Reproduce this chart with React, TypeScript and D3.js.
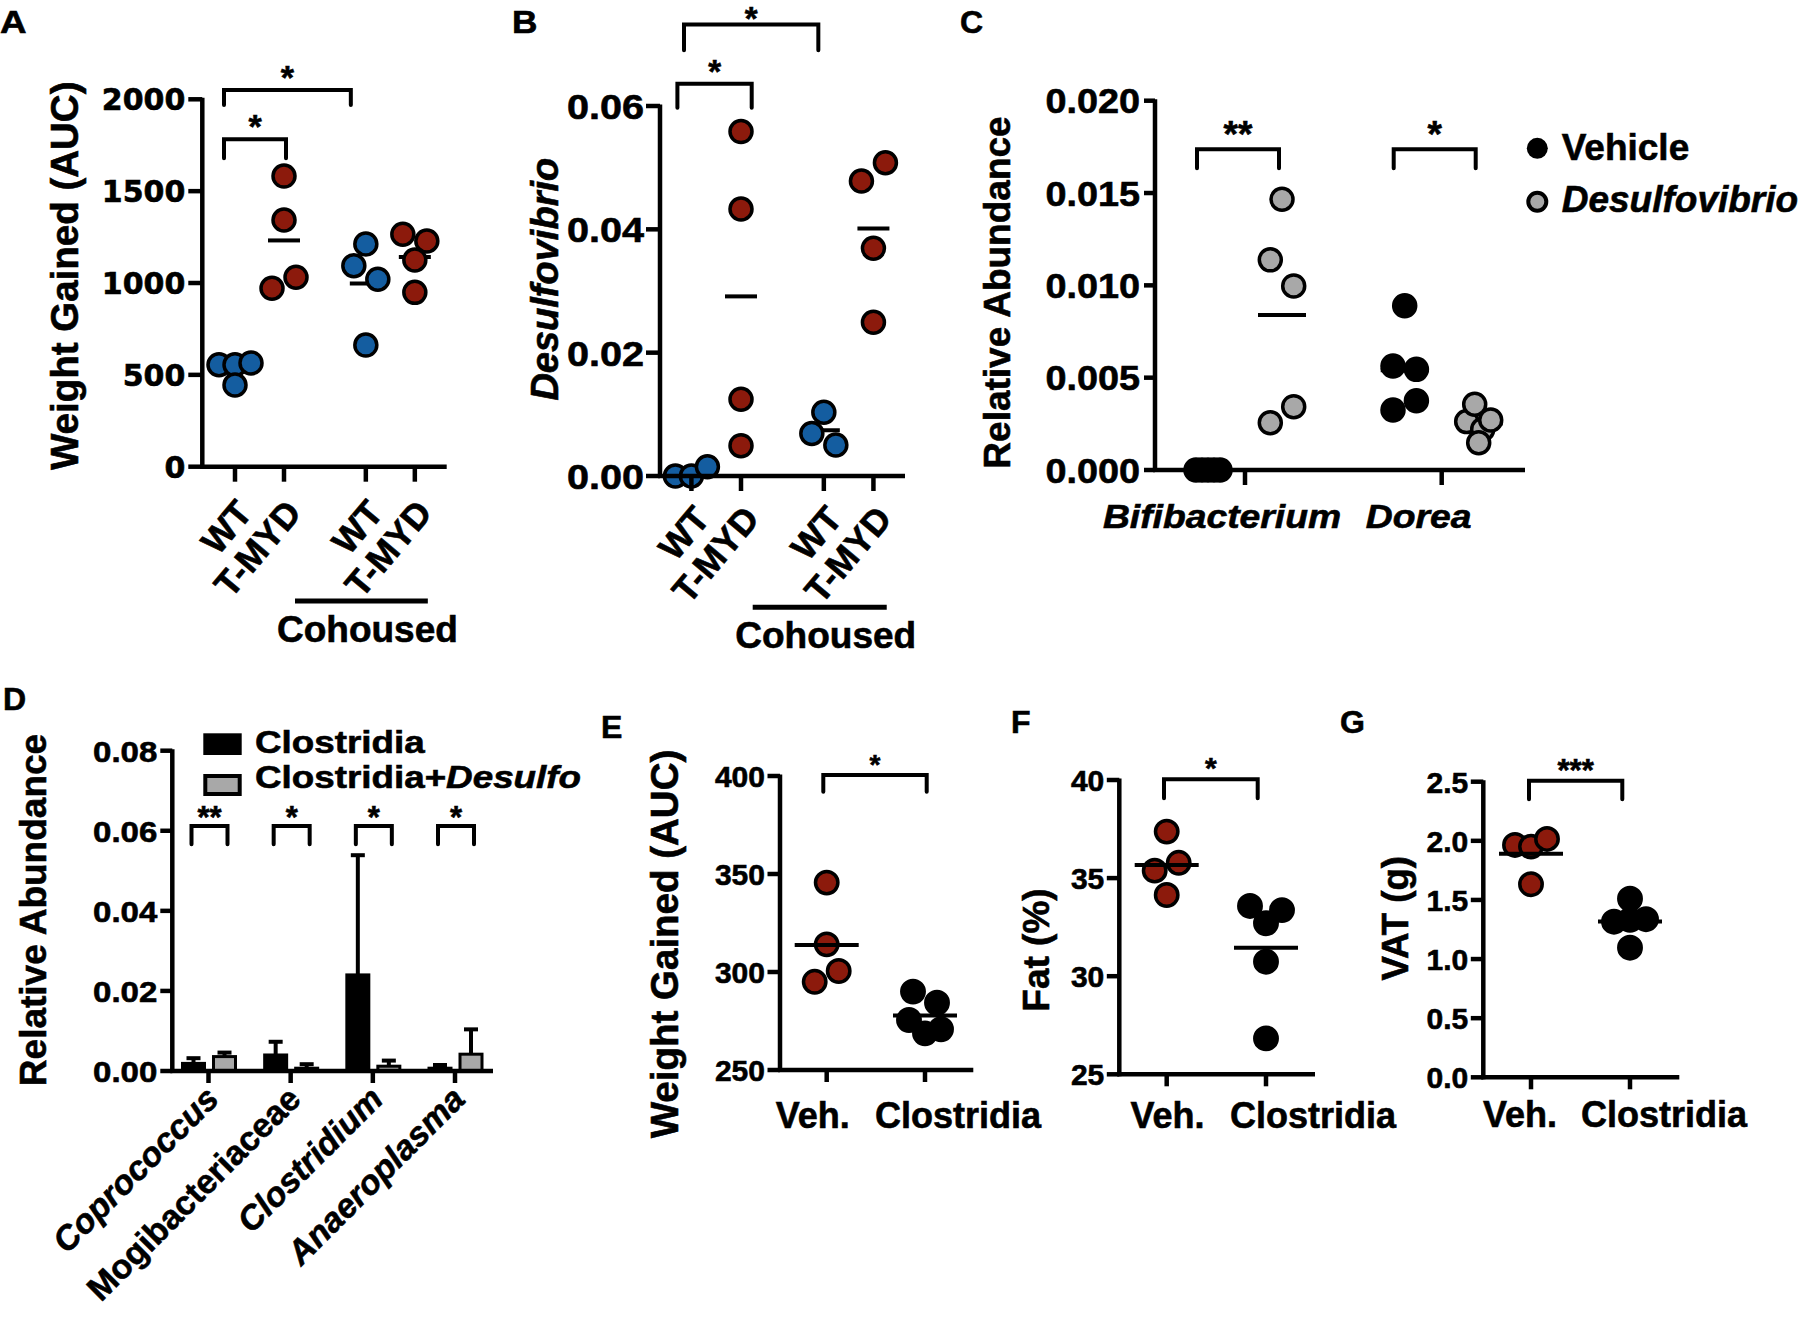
import React from 'react';
import * as d3 from 'd3';

// ---------------- DATA ----------------
// Panel A: weight gained (AUC)
const groupsA = ['WT', 'T-MYD', 'WT', 'T-MYD'];
const cohousedA = [false, false, true, true];
const weightA: number[][] = [
  [555, 555, 565, 445],
  [1582, 1343, 971, 1031],
  [1212, 1094, 1020, 662],
  [1265, 1229, 1125, 949],
];
const ticksA = [0, 500, 1000, 1500, 2000];
const compA = [
  { a: 0, b: 1, level: 1782, label: '*' },
  { a: 0, b: 2, level: 2051, label: '*' },
];

// Panel B: Desulfovibrio abundance
const groupsB = ['WT', 'T-MYD', 'WT', 'T-MYD'];
const cohousedB = [false, false, true, true];
const desulfoB: number[][] = [
  [0, 0, 0.0015],
  [0.05585, 0.0433, 0.01244, 0.00492],
  [0.01033, 0.0069, 0.00503],
  [0.04785, 0.0508, 0.03693, 0.02493],
];
const ticksB = [0, 0.02, 0.04, 0.06];
const compB = [
  { a: 0, b: 1, level: 0.0636, label: '*' },
  { a: 0, b: 2, level: 0.0732, label: '*' },
];

// Panel C: relative abundance by genus
const genusC = ['Bifibacterium', 'Dorea'];
const treatC = ['Vehicle', 'Desulfovibrio'];
const vehicleC: number[][] = [
  [0, 0, 0, 0, 0],
  [0.0089, 0.00563, 0.00545, 0.00325, 0.00375],
];
const desulfoC: number[][] = [
  [0.01466, 0.01138, 0.00997, 0.00256, 0.00343],
  [0.00262, 0.00356, 0.0022, 0.00271, 0.00148],
];
const ticksC = [0, 0.005, 0.01, 0.015, 0.02];
const starsC = ['**', '*'];
const levelC = 0.01737;

// Panel D: bar chart, mean + SEM
const taxaD = ['Coprococcus', 'Mogibacteriaceae', 'Clostridium', 'Anaeroplasma'];
const italicD = [true, false, true, true];
const seriesD = ['Clostridia', 'Clostridia+Desulfo'];
const clostMeanD = [0.0019, 0.004, 0.024, 0.0007];
const clostSemD = [0.0013, 0.0033, 0.0299, 0.0008];
const desMeanD = [0.0036, 0.0007, 0.0012, 0.0042];
const desSemD = [0.001, 0.001, 0.0014, 0.0062];
const ticksD = [0, 0.02, 0.04, 0.06, 0.08];
const starsD = ['**', '*', '*', '*'];
const levelD = 0.0612;

// Panels E, F, G
const groupsEFG = ['Veh.', 'Clostridia'];
const weightE: number[][] = [
  [345.6, 314.1, 295.0, 300.5],
  [290, 284.3, 275.5, 268.7, 270.8],
];
const ticksE = [250, 300, 350, 400];
const fatF: number[][] = [
  [37.37, 35.38, 35.78, 34.14],
  [33.58, 32.7, 33.37, 30.74, 26.83],
];
const ticksF = [25, 30, 35, 40];
const vatG: number[][] = [
  [1.965, 1.951, 2.016, 1.633],
  [1.51, 1.316, 1.331, 1.337, 1.096],
];
const ticksG = [0, 0.5, 1, 1.5, 2, 2.5];

// ---------------- STYLE ----------------
const BOLD = '"Liberation Sans", Arial, Helvetica, sans-serif';
const WIDE = '"DejaVu Sans", Verdana, sans-serif';
const RED = '#8c1a0c';
const BLUE = '#145da0';
const GRAY = '#a8a8a8';
const SW = 4.5;

// ---------------- HELPERS ----------------
function Txt(props: any) {
  const { x, y, size, anchor = 'start', rot = 0, sx = 1, italic = false, family = BOLD, children } = props;
  return (
    <text
      transform={`translate(${x},${y}) rotate(${rot}) scale(${sx},1)`}
      fontFamily={family}
      fontSize={size}
      fontWeight="bold"
      fontStyle={italic ? 'italic' : 'normal'}
      textAnchor={anchor}
      fill="#000"
      stroke="#000"
      strokeWidth={0.6}
    >
      {children}
    </text>
  );
}

function YAxis(props: any) {
  const { x, y, ticks, fmt, size, sx = 1, family = BOLD, tick = 13, gap = 2 } = props;
  const [d0, d1] = y.domain();
  return (
    <g>
      <line x1={x} x2={x} y1={y(d1) - 1.5} y2={y(d0) + 2} stroke="#000" strokeWidth={SW} />
      {ticks.map((t: number) => (
        <g key={t}>
          <line x1={x - tick} x2={x} y1={y(t)} y2={y(t)} stroke="#000" strokeWidth={SW} />
          <Txt x={x - tick - gap} y={y(t) + size * 0.36} size={size} anchor="end" sx={sx} family={family}>
            {fmt(t)}
          </Txt>
        </g>
      ))}
    </g>
  );
}

function XAxis(props: any) {
  const { x0, x1, y, ticks, len = 13 } = props;
  return (
    <g>
      <line x1={x0 - 2} x2={x1} y1={y} y2={y} stroke="#000" strokeWidth={SW} />
      {ticks.map((t: number, i: number) => (
        <line key={i} x1={t} x2={t} y1={y} y2={y + len} stroke="#000" strokeWidth={SW} />
      ))}
    </g>
  );
}

function Bracket(props: any) {
  const { x1, x2, y, leg, label, size, dy } = props;
  return (
    <g>
      <path
        d={`M${x1},${y + leg}V${y}H${x2}V${y + leg}`}
        fill="none"
        stroke="#000"
        strokeWidth={4}
        strokeLinecap="round"
      />
      <Txt x={(x1 + x2) / 2} y={y + dy} size={size} anchor="middle">
        {label}
      </Txt>
    </g>
  );
}

// points in the same vertical bin are spread symmetrically around the group centre
function dodge(ys: number[], binSize: number, spacing: number, maxHalf: number): number[] {
  const idx = ys.map((_, i) => i).sort((a, b) => ys[a] - ys[b]);
  const off = new Array(ys.length).fill(0);
  let i = 0;
  while (i < idx.length) {
    const start = ys[idx[i]];
    const bin: number[] = [];
    while (i < idx.length && ys[idx[i]] - start < binSize) {
      bin.push(idx[i]);
      i++;
    }
    bin.sort((a, b) => a - b);
    const n = bin.length;
    const sp = n > 1 ? Math.min(spacing, (2 * maxHalf) / (n - 1)) : 0;
    bin.forEach((k, j) => {
      off[k] = (j - (n - 1) / 2) * sp;
    });
  }
  return off;
}

function Dots(props: any) {
  const { cx, vals, y, fill, r = 11, binSize = 19, spacing = 24, maxHalf = 16 } = props;
  const ys = vals.map((v: number) => y(v));
  const off = dodge(ys, binSize, spacing, maxHalf);
  return (
    <g>
      {vals.map((_: number, i: number) => (
        <circle key={i} cx={cx + off[i]} cy={ys[i]} r={r} fill={fill} stroke="#000" strokeWidth={3.5} />
      ))}
    </g>
  );
}

function MeanLine(props: any) {
  const { cx, y, w } = props;
  return <line x1={cx - w / 2} x2={cx + w / 2} y1={y} y2={y} stroke="#000" strokeWidth={4} />;
}

// ---------------- PANELS ----------------
const GAP = 0.67; // extra slot spacing before the cohoused groups

function PanelA() {
  const y = d3.scaleLinear().domain([0, 2000]).range([466.7, 99.3]);
  const slot = d3.scaleLinear().domain([0, 1]).range([235, 284]);
  const pos = groupsA.map((_, i) => slot(i + (cohousedA[i] ? GAP : 0)));
  const adj = [
    [-11, 2, 19, -1.5],
    [-11, -15, 15, -1.2],
  ];
  const base = y(0);
  const cohX1 = pos[1] + 11;
  const cohX2 = pos[3] + 13;
  return (
    <g>
      <Txt x={0} y={33} size={32} sx={1.15}>A</Txt>
      <Txt x={77.5} y={275.8} size={38.5} rot={-90} anchor="middle">Weight Gained (AUC)</Txt>
      {weightA.map((vals, i) => (
        <MeanLine key={'m' + i} cx={pos[i]} y={y(d3.mean(vals) as number)} w={32} />
      ))}
      {weightA.map((vals, i) => (
        <Dots key={'d' + i} cx={pos[i]} vals={vals} y={y} fill={i % 2 === 0 ? BLUE : RED} />
      ))}
      <YAxis x={202.3} y={y} ticks={ticksA} fmt={d3.format('d')} size={30} family={WIDE} tick={14} gap={3} />
      <XAxis x0={202.3} x1={446.7} y={base} ticks={pos} len={15} />
      {compA.map((c, k) => (
        <Bracket
          key={k}
          x1={pos[c.a] + adj[k][0]}
          x2={pos[c.b] + adj[k][1]}
          y={y(c.level)}
          leg={adj[k][2]}
          dy={adj[k][3]}
          label={c.label}
          size={34}
        />
      ))}
      {groupsA.map((g, i) => (
        <Txt key={'x' + i} x={pos[i] + 19} y={base + 47} size={36} rot={-50} anchor="end">
          {g}
        </Txt>
      ))}
      <line x1={cohX1} x2={cohX2} y1={base + 134.3} y2={base + 134.3} stroke="#000" strokeWidth={5} />
      <Txt x={(cohX1 + cohX2) / 2 + 6} y={base + 175.3} size={37} anchor="middle">Cohoused</Txt>
    </g>
  );
}

function PanelB() {
  const y = d3.scaleLinear().domain([0, 0.06]).range([476, 106]);
  const slot = d3.scaleLinear().domain([0, 1]).range([691.4, 741]);
  const pos = groupsB.map((_, i) => slot(i + (cohousedB[i] ? GAP : 0)));
  const adj = [
    [-14, 10.7, 24, -1.3],
    [-7.4, -5.5, 25.7, 5],
  ];
  const base = y(0);
  const cohX1 = pos[1] + 11.7;
  const cohX2 = pos[3] + 13.3;
  return (
    <g>
      <Txt x={512} y={33} size={32} sx={1.1}>B</Txt>
      <Txt x={558} y={279.2} size={38} rot={-90} anchor="middle" italic>Desulfovibrio</Txt>
      {desulfoB.map((vals, i) => (
        <MeanLine key={'m' + i} cx={pos[i]} y={y(d3.mean(vals) as number)} w={32} />
      ))}
      {desulfoB.map((vals, i) => (
        <Dots key={'d' + i} cx={pos[i]} vals={vals} y={y} fill={i % 2 === 0 ? BLUE : RED} />
      ))}
      <YAxis x={660} y={y} ticks={ticksB} fmt={d3.format('.2f')} size={36} sx={1.1} tick={14} gap={2} />
      <XAxis x0={660} x1={905} y={base} ticks={pos} len={15} />
      {compB.map((c, k) => (
        <Bracket
          key={k}
          x1={pos[c.a] + adj[k][0]}
          x2={pos[c.b] + adj[k][1]}
          y={y(c.level)}
          leg={adj[k][2]}
          dy={adj[k][3]}
          label={c.label}
          size={33}
        />
      ))}
      {groupsB.map((g, i) => (
        <Txt key={'x' + i} x={pos[i] + 20} y={base + 43.6} size={36} rot={-50} anchor="end">
          {g}
        </Txt>
      ))}
      <line x1={cohX1} x2={cohX2} y1={base + 131.3} y2={base + 131.3} stroke="#000" strokeWidth={5} />
      <Txt x={(cohX1 + cohX2) / 2 + 6} y={base + 172} size={37} anchor="middle">Cohoused</Txt>
    </g>
  );
}

function PanelC() {
  const y = d3.scaleLinear().domain([0, 0.02]).range([470, 100.7]);
  const x = d3.scalePoint<string>().domain(genusC).range([1245, 1441.7]);
  const sub = d3.scalePoint<string>().domain(treatC).range([-37, 37]);
  const base = y(0);
  const dotOpts = { binSize: 30, spacing: 23.4, maxHalf: 12 };
  return (
    <g>
      <Txt x={960} y={33} size={32}>C</Txt>
      <Txt x={1010} y={292.5} size={37} rot={-90} anchor="middle">Relative Abundance</Txt>
      {genusC.map((g, i) => {
        const cv = (x(g) as number) + (sub(treatC[0]) as number);
        const cd = (x(g) as number) + (sub(treatC[1]) as number);
        return (
          <g key={g}>
            <MeanLine cx={cv} y={y(d3.mean(vehicleC[i]) as number)} w={48} />
            <MeanLine cx={cd} y={y(d3.mean(desulfoC[i]) as number)} w={48} />
            <Dots cx={cv} vals={vehicleC[i]} y={y} fill="#000" {...dotOpts} />
            <Dots cx={cd} vals={desulfoC[i]} y={y} fill={GRAY} {...dotOpts} />
            <Bracket x1={cv - 11} x2={cd - 3} y={y(levelC)} leg={19} dy={-2.3} label={starsC[i]} size={37} />
            <Txt x={(x(g) as number) - 23} y={528.3} size={33} sx={1.13} anchor="middle" italic>
              {g}
            </Txt>
          </g>
        );
      })}
      <YAxis x={1155} y={y} ticks={ticksC} fmt={d3.format('.3f')} size={35} sx={1.08} tick={11} gap={4} />
      <XAxis x0={1155} x1={1525} y={base} ticks={genusC.map((g) => x(g) as number)} len={15} />
      {/* legend */}
      <circle cx={1537.3} cy={148.3} r={10.5} fill="#000" />
      <Txt x={1561.7} y={160} size={37}>{treatC[0]}</Txt>
      <circle cx={1537.3} cy={201.7} r={9} fill={GRAY} stroke="#000" strokeWidth={4} />
      <Txt x={1561.7} y={211.7} size={37} italic>{treatC[1]}</Txt>
    </g>
  );
}

function PanelD() {
  const y = d3.scaleLinear().domain([0, 0.08]).range([1071, 750.7]);
  const x = d3.scalePoint<string>().domain(taxaD).range([208.5, 455]);
  const inner = d3.scaleBand<string>().domain(seriesD).range([-27.5, 28.5]).paddingInner(0.194);
  const bw = inner.bandwidth();
  const base = y(0);
  const series = [
    { name: seriesD[0], mean: clostMeanD, sem: clostSemD, fill: '#000' },
    { name: seriesD[1], mean: desMeanD, sem: desSemD, fill: GRAY },
  ];
  return (
    <g>
      <Txt x={3} y={710} size={32}>D</Txt>
      <Txt x={46} y={910} size={37} rot={-90} anchor="middle">Relative Abundance</Txt>
      {series.map((s) =>
        taxaD.map((t, i) => {
          const bx = (x(t) as number) + (inner(s.name) as number);
          const cx = bx + bw / 2;
          const top = y(s.mean[i]);
          const et = y(s.mean[i] + s.sem[i]);
          return (
            <g key={s.name + t}>
              <line x1={cx} x2={cx} y1={top} y2={et} stroke="#000" strokeWidth={4} />
              <line x1={cx - 7} x2={cx + 7} y1={et} y2={et} stroke="#000" strokeWidth={4} />
              <rect x={bx + 1.5} y={top} width={bw - 3} height={Math.max(0, base - top)} fill={s.fill} stroke="#000" strokeWidth={3} />
            </g>
          );
        })
      )}
      <YAxis x={172.3} y={y} ticks={ticksD} fmt={d3.format('.2f')} size={30} sx={1.1} tick={12} gap={3} />
      <XAxis x0={172.3} x1={493} y={base} ticks={taxaD.map((t) => x(t) as number)} len={12} />
      {taxaD.map((t, i) => (
        <g key={'b' + t}>
          <Bracket x1={(x(t) as number) - 17} x2={(x(t) as number) + 19} y={y(levelD)} leg={18.3} dy={1.8} label={starsD[i]} size={31} />
          <Txt x={(x(t) as number) + 12} y={1101} size={34} rot={-45} anchor="end" italic={italicD[i]}>
            {t}
          </Txt>
        </g>
      ))}
      {/* legend */}
      <rect x={203.3} y={733.3} width={38.4} height={21.7} fill="#000" />
      <Txt x={255} y={753.3} size={32} sx={1.15}>{seriesD[0]}</Txt>
      <rect x={205.3} y={776} width={34.4} height={18} fill={GRAY} stroke="#000" strokeWidth={4} />
      <Txt x={255} y={788.3} size={32} sx={1.15}>
        Clostridia+<tspan fontStyle="italic">Desulfo</tspan>
      </Txt>
    </g>
  );
}

function SmallPanel(props: any) {
  const {
    letter, lx, ly, title, tx, ty, tsize, domain, range, xr, axisX, axisEnd, ticks, fmt, data,
    brk, labelDx, labelY,
  } = props;
  const y = d3.scaleLinear().domain(domain).range(range);
  const x = d3.scalePoint<string>().domain(groupsEFG).range(xr);
  const pos = groupsEFG.map((g) => x(g) as number);
  const base = y(domain[0]);
  return (
    <g>
      <Txt x={lx} y={ly} size={32}>{letter}</Txt>
      <Txt x={tx} y={ty} size={tsize} rot={-90} anchor="middle">{title}</Txt>
      {data.map((vals: number[], i: number) => (
        <Dots key={'d' + i} cx={pos[i]} vals={vals} y={y} fill={i === 0 ? RED : '#000'} r={11.2} />
      ))}
      {data.map((vals: number[], i: number) => (
        <MeanLine key={'m' + i} cx={pos[i]} y={y(d3.mean(vals) as number)} w={64} />
      ))}
      <YAxis x={axisX} y={y} ticks={ticks} fmt={fmt} size={30} tick={12.5} gap={2.5} />
      <XAxis x0={axisX} x1={axisEnd} y={base} ticks={pos} len={12} />
      <Bracket
        x1={pos[0] + brk.dx1}
        x2={pos[1] + brk.dx2}
        y={y(brk.level)}
        leg={brk.leg}
        dy={brk.dy}
        label={brk.label}
        size={brk.size}
      />
      {groupsEFG.map((g, i) => (
        <Txt key={g} x={pos[i] + labelDx[i]} y={labelY} size={36} anchor="middle">
          {g}
        </Txt>
      ))}
    </g>
  );
}

export default function App() {
  return (
    <svg
      width={1800}
      height={1317}
      viewBox="0 0 1800 1317"
      style={{ position: 'absolute', left: 0, top: 0, background: '#fff' }}
    >
      <rect x={0} y={0} width={1800} height={1317} fill="#fff" />
      <PanelA />
      <PanelB />
      <PanelC />
      <PanelD />
      <SmallPanel
        letter="E" lx={601} ly={738}
        title="Weight Gained (AUC)" tx={678} ty={944} tsize={38.5}
        domain={[250, 400]} range={[1070, 776]} xr={[826.7, 925]}
        axisX={780} axisEnd={973.3} ticks={ticksE} fmt={d3.format('d')} data={weightE}
        brk={{ dx1: -3.4, dx2: 1.7, level: 400.5, leg: 16.7, dy: -1.5, label: '*', size: 28 }}
        labelDx={[-14, 33]} labelY={1128.3}
      />
      <SmallPanel
        letter="F" lx={1011} ly={733}
        title="Fat (%)" tx={1049} ty={950} tsize={37}
        domain={[25, 40]} range={[1074.3, 780]} xr={[1166.7, 1266]}
        axisX={1119.3} axisEnd={1315} ticks={ticksF} fmt={d3.format('d')} data={fatF}
        brk={{ dx1: -2.7, dx2: -8.3, level: 40.04, leg: 19, dy: -1.7, label: '*', size: 30 }}
        labelDx={[0.8, 47]} labelY={1128.3}
      />
      <SmallPanel
        letter="G" lx={1340} ly={733}
        title="VAT (g)" tx={1408} ty={918.3} tsize={36.6}
        domain={[0, 2.5]} range={[1077.3, 781.7]} xr={[1531, 1630]}
        axisX={1483.3} axisEnd={1679.3} ticks={ticksG} fmt={d3.format('.1f')} data={vatG}
        brk={{ dx1: -2, dx2: -7.7, level: 2.507, leg: 18.3, dy: 0.5, label: '***', size: 31 }}
        labelDx={[-11, 34]} labelY={1126.7}
      />
    </svg>
  );
}
